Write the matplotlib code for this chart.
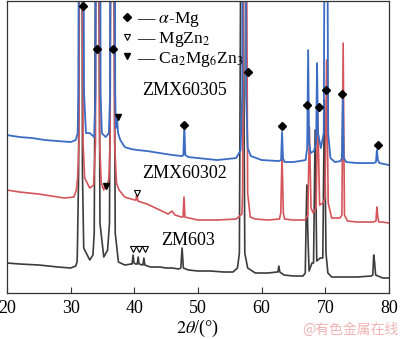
import matplotlib
matplotlib.use("Agg")
import matplotlib.pyplot as plt
from matplotlib.lines import Line2D

plt.rcParams['font.family'] = ['Liberation Serif', 'DejaVu Serif']
plt.rcParams['mathtext.fontset'] = 'stix'

# --- XRD patterns (2theta in deg, intensity in a.u.) ---
# ZM603 (black)
zm603_tt = [20, 22, 25, 28, 30, 30.8, 31.0,
            31.05, 31.25, 31.32, 31.78, 31.85, 32.05,
            33.0, 33.5, 33.7, 33.95, 34.4, 34.6, 35.2, 35.8,
            36.1, 36.3, 36.75, 37.0, 37.5, 38.5, 39.5,
            39.65, 39.8, 39.95, 40.2, 40.45, 40.6, 40.75,
            41.35, 41.5, 41.65, 42.5, 44, 45, 46, 47.0,
            47.3, 47.5, 47.7, 48.5, 50, 52, 54, 55.5, 56.2,
            56.5, 56.75, 57.05, 57.35, 57.8, 59, 61, 62.4,
            62.55, 62.7, 62.85, 63.5, 65, 66.5,
            66.85, 67.0, 67.1, 67.25, 67.45, 67.9,
            68.15, 68.4, 68.65, 69.2, 69.6, 69.85, 70.1, 70.4,
            71, 73, 75, 77.2, 77.45, 77.6, 77.75, 77.9, 79, 80]
zm603_i = [30, 29, 28, 26, 25, 27, 31,
           40, 120, 400, 400, 120, 45,
           33, 38, 60, 400, 400, 70, 36, 43,
           70, 400, 400, 60, 31, 28, 29,
           29, 38, 30, 29, 29, 36, 29,
           28, 35, 28, 26, 26, 25, 25, 24,
           25, 45, 25, 23, 22, 22, 21, 21, 25,
           40, 400, 400, 40, 25, 20, 20, 21,
           21, 27, 21, 18, 17, 17,
           20, 80, 108, 60, 22, 30,
           30, 163, 32, 35, 35, 193, 40, 20,
           16, 16, 16, 17, 18, 38, 30, 18, 15, 15]

# ZMX60302 (red)
zmx302_tt = [20, 22, 25, 27, 29, 30.5, 30.9, 31.1,
             31.3, 31.4, 31.85, 31.95, 32.2, 33.0, 33.6,
             33.9, 34.0, 34.45, 34.55, 34.8, 35.2, 35.45, 35.7, 36.0,
             36.2, 36.3, 36.8, 36.9, 37.2, 37.6, 38.5, 39.5, 40.1,
             40.25, 40.4, 40.55, 41, 42, 43, 44, 45.3, 45.9, 46.4, 47.4,
             47.65, 47.8, 47.95, 48.6, 50, 53, 56, 56.9,
             57.0, 57.2, 57.6, 57.8, 58.2, 59, 61, 62.8,
             63.0, 63.2, 63.4, 63.6, 65, 66.8,
             67.25, 67.5, 67.75, 68.1, 68.55, 68.8, 69.1, 69.6,
             69.95, 70.2, 70.45, 71, 72.3, 72.6, 72.8, 73.0, 73.5,
             75, 77.5, 77.95, 78.1, 78.25, 78.4, 79, 80]
zmx302_i = [103, 101, 99, 97, 95, 96, 103, 116,
            150, 400, 400, 150, 115, 105, 108,
            150, 400, 400, 150, 110, 103, 109, 105, 115,
            150, 400, 400, 150, 110, 103, 96, 94, 93,
            93, 100, 92, 91, 89, 86, 83, 79, 82, 78, 76,
            76, 96, 76, 75, 73, 73, 74, 79,
            100, 400, 400, 100, 76, 74, 73, 74,
            80, 138, 80, 74, 73, 73,
            78, 166, 85, 80, 85, 183, 88, 90,
            95, 233, 90, 75, 75, 78, 250, 78, 72,
            71, 71, 72, 86, 76, 71, 71, 70]

# ZMX60305 (blue)
zmx305_tt = [20, 22, 24, 26, 28, 30, 30.8, 31.1,
             31.2, 31.3, 32.0, 32.1, 32.4, 33.0, 33.7,
             33.9, 33.95, 34.65, 34.7, 34.9, 35.5, 36.0,
             36.2, 36.25, 36.95, 37.0, 37.1, 37.3, 37.45,
             37.8, 38.5, 39.5, 40.5, 42, 44, 46, 47.5,
             47.7, 47.85, 48.0, 48.5, 50, 53, 56, 56.7,
             56.95, 57.0, 57.5, 57.55, 57.8, 58.3, 60, 62.7,
             63.05, 63.2, 63.35, 63.6, 65, 66.9,
             67.15, 67.3, 67.45, 67.7, 68.2, 68.55, 68.7, 68.85, 69.3,
             69.75, 69.9, 70.3, 70.45, 70.8, 71.5, 72.4,
             72.6, 72.75, 72.9, 73.3, 75, 77.6,
             77.95, 78.1, 78.25, 78.5, 80]
zmx305_i = [158, 156, 155, 153, 152, 151, 153, 160,
            200, 400, 400, 200, 160, 160, 156,
            200, 400, 400, 200, 160, 156, 160,
            200, 400, 400, 200, 165, 173, 160,
            153, 146, 144, 143, 142, 140, 138, 137,
            138, 168, 138, 136, 135, 133, 135, 143,
            200, 400, 400, 200, 145, 137, 133, 132,
            133, 161, 135, 131, 131, 133,
            145, 243, 150, 140, 142, 150, 230, 160, 145,
            160, 400, 400, 160, 135, 131, 132,
            135, 198, 135, 131, 130, 130,
            131, 143, 133, 130, 128]

# phase markers
amg_tt = [31.9, 34.1, 36.6, 47.8, 57.85, 63.2, 67.1, 69.0, 70.1, 72.6, 78.3]
amg_i = [287, 244, 244, 168, 221, 167, 188, 186, 203, 199, 148]
mgzn2_tt = [40.4, 39.8, 40.7, 41.7]
mgzn2_i = [100, 44, 44, 44]
ca_tt = [37.45, 35.55]
ca_i = [176, 107]

sample_names = ['ZMX60305', 'ZMX60302', 'ZM603']
name_pos = [(41.2, 203), (41.2, 120), (44.2, 53)]

c_blue = '#3b6cc4'
c_red = '#d6555a'
c_black = '#3c3c3c'

fig = plt.figure(figsize=(4.0, 3.39), dpi=100)
ax = fig.add_axes([0.0175, 0.1357, 0.955, 0.861])

ax.plot(zm603_tt, zm603_i, color=c_black, lw=1.2)
ax.plot(zmx302_tt, zmx302_i, color=c_red, lw=1.2)
ax.plot(zmx305_tt, zmx305_i, color=c_blue, lw=1.3)

ax.plot(amg_tt, amg_i, 'D', color='black', ms=4, ls='none')
ax.plot(mgzn2_tt, mgzn2_i, 'v', mfc='white', mec='black', mew=0.8, ms=5, ls='none')
ax.plot(ca_tt, ca_i, 'v', color='black', ms=5, ls='none')

for name, (x, y) in zip(sample_names, name_pos):
    ax.text(x, y, name, fontsize=13, ha='left', va='center')

handles = [Line2D([], [], marker='D', color='black', ms=4, ls='none'),
           Line2D([], [], marker='v', mfc='white', mec='black', mew=0.8, ms=5, ls='none'),
           Line2D([], [], marker='v', color='black', ms=5, ls='none')]
labels = [r'— $\alpha$-Mg', r'— MgZn$_2$', r'— Ca$_2$Mg$_6$Zn$_3$']
ax.legend(handles, labels, loc='upper left', bbox_to_anchor=(0.272, 1.0),
          frameon=False, fontsize=12.5, handlelength=0.8, handletextpad=0.2,
          labelspacing=0.05, borderaxespad=0.1)

ax.set_xlim(20, 80)
ax.set_ylim(0, 292)
ax.set_xticks([20, 30, 40, 50, 60, 70, 80])
ax.set_yticks([])
ax.tick_params(axis='x', direction='in', length=4, labelsize=13, pad=5, color='#333333')
for s in ax.spines.values():
    s.set_color('#333333')
    s.set_linewidth(0.9)
ax.set_xlabel(r'$\mathit{2\theta}$/(°)', fontsize=13, labelpad=1)

fig.text(0.875, 0.027, '@有色金属在线', fontsize=10, color='#f0b4b4', ha='center', va='center',
         family=['Noto Sans CJK SC', 'DejaVu Sans'])

fig.savefig('out.png', dpi=100)
